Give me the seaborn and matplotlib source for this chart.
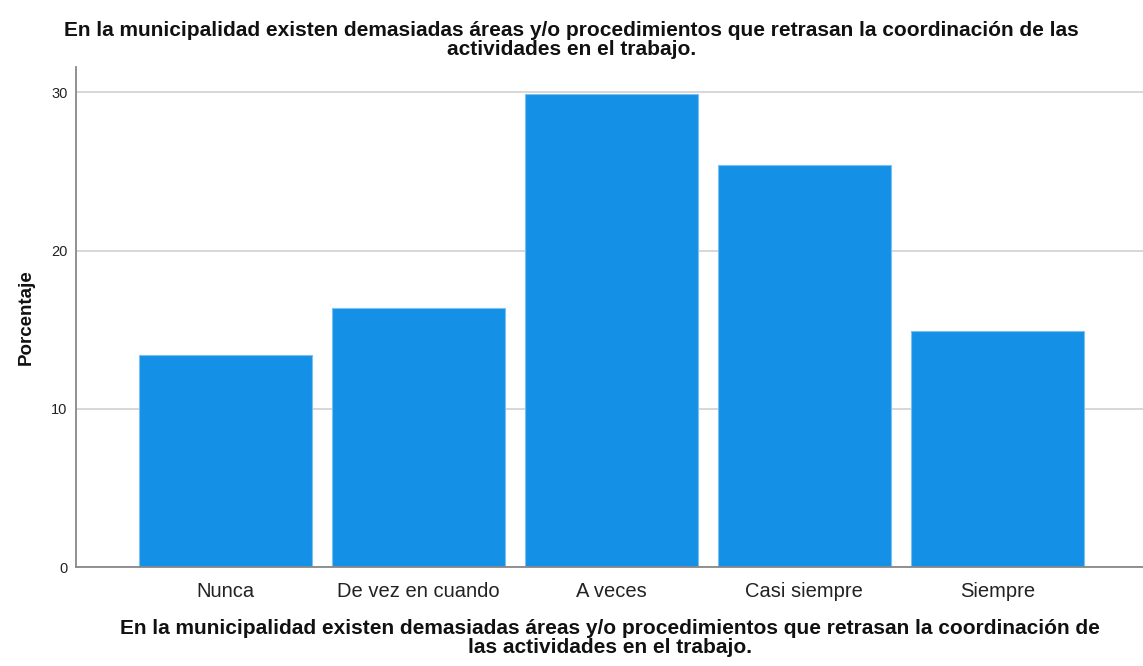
import matplotlib
matplotlib.use("Agg")
import matplotlib.pyplot as plt
import seaborn as sns
import pandas as pd

categorias = ["Nunca", "De vez en cuando", "A veces", "Casi siempre", "Siempre"]
porcentajes = [13.4, 16.4, 29.9, 25.4, 14.9]
yticks = [0, 10, 20, 30]

titulo = ("En la municipalidad existen demasiadas áreas y/o procedimientos que retrasan la coordinación de las\n"
          "actividades en el trabajo.")
etiqueta_x = ("En la municipalidad existen demasiadas áreas y/o procedimientos que retrasan la coordinación de\n"
              "las actividades en el trabajo.")

sns.set_theme(style="white")
plt.rcParams["font.family"] = ["Liberation Sans", "DejaVu Sans"]

df = pd.DataFrame({"categoria": categorias, "porcentaje": porcentajes})

fig = plt.figure(figsize=(11.43, 6.66), dpi=100)
ax = fig.add_axes([0.0665, 0.1486, 0.9335, 0.7508])

sns.barplot(data=df, x="categoria", y="porcentaje", color="#1491e6",
            saturation=1, width=0.896, edgecolor="#7cc0f0", linewidth=0.8,
            ax=ax, zorder=3)

ax.set_xlim(-0.775, 4.755)
ax.set_ylim(0, 31.6)
ax.set_yticks(yticks)
ax.yaxis.grid(True, color="#d4d4d4", linewidth=1.3, zorder=0)
ax.xaxis.grid(False)
ax.tick_params(axis="y", length=0, labelsize=10.5, colors="#222222", pad=6)
ax.tick_params(axis="x", length=0, labelsize=14.5, colors="#222222", pad=11)

for side in ["top", "right"]:
    ax.spines[side].set_visible(False)
for side in ["left", "bottom"]:
    ax.spines[side].set_color("#888888")
    ax.spines[side].set_linewidth(1.3)
ax.spines["left"].set_zorder(4)
ax.spines["bottom"].set_zorder(4)

ax.set_ylabel("Porcentaje", fontsize=13.5, fontweight="bold", labelpad=12, color="#111111")
ax.set_xlabel(etiqueta_x, fontsize=15, fontweight="bold", labelpad=13,
              linespacing=1.0, color="#111111")
fig.suptitle(titulo, x=0.5, y=0.968, fontsize=15, fontweight="bold",
             linespacing=1.0, color="#111111")

fig.savefig("out.png", dpi=100)
